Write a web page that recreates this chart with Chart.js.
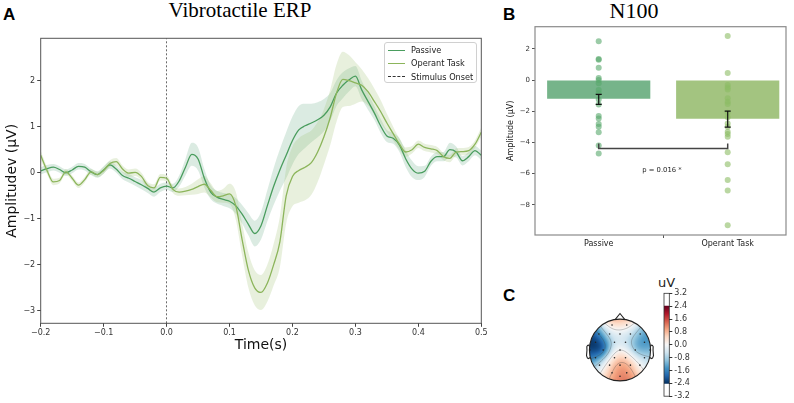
<!DOCTYPE html>
<html><head><meta charset="utf-8">
<script src="https://cdn.jsdelivr.net/npm/chart.js@4.4.0/dist/chart.umd.min.js"></script>
<style>
body{margin:0;width:794px;height:403px;background:#fff;position:relative;overflow:hidden;font-family:"DejaVu Sans",sans-serif;}
canvas{position:absolute;}
.lbl{position:absolute;font-family:"Liberation Sans",Arial,sans-serif;font-weight:bold;font-size:17px;line-height:1;}
.ttl{position:absolute;font-family:"Liberation Serif","Times New Roman",serif;line-height:1;white-space:nowrap;text-align:center;}
.leg{position:absolute;left:384px;top:42px;width:91px;height:39px;border:1px solid #d0d0d0;border-radius:3px;background:rgba(255,255,255,0.85);}
.li{position:absolute;left:3px;width:17px;height:0;}
.lt{position:absolute;left:26px;font-size:8.2px;line-height:1;color:#222;white-space:nowrap;}
</style></head><body>
<div class="lbl" style="left:3px;top:5.6px">A</div>
<div class="lbl" style="left:503px;top:5.6px">B</div>
<div class="lbl" style="left:503px;top:286.6px">C</div>
<div class="ttl" style="left:140px;width:200px;top:0px;font-size:21px">Vibrotactile ERP</div>
<div class="ttl" style="left:584px;width:100px;top:0px;font-size:22px">N100</div>
<div style="position:absolute;left:645px;width:43px;top:276px;text-align:center;font-size:13px;line-height:1;color:#222">uV</div>

<canvas id="cA" width="500" height="360" style="left:0;top:0"></canvas>
<canvas id="cB" width="294" height="260" style="left:500px;top:0"></canvas>
<canvas id="cT" width="80" height="88" style="left:580px;top:306px"></canvas>
<canvas id="cC" width="70" height="118" style="left:640px;top:285px"></canvas>

<div class="leg">
  <div class="li" style="top:6.5px;border-top:1.5px solid #4a9d5e"></div><div class="lt" style="top:3px">Passive</div>
  <div class="li" style="top:19.8px;border-top:1.5px solid #8cb55b"></div><div class="lt" style="top:16.3px">Operant Task</div>
  <div class="li" style="top:33.2px;border-top:1px dashed #333"></div><div class="lt" style="top:29.7px">Stimulus Onset</div>
</div>

<script>
// ---------------- DATA ----------------
const timeS = [-0.20,-0.19,-0.18,-0.17,-0.16,-0.15,-0.14,-0.13,-0.12,-0.11,-0.10,-0.09,-0.08,-0.07,-0.06,-0.05,-0.04,-0.03,-0.02,-0.01,
  0.00,0.01,0.02,0.03,0.04,0.05,0.06,0.07,0.08,0.09,0.10,0.11,0.12,0.13,0.14,0.15,0.16,0.17,0.18,0.19,0.20,
  0.21,0.22,0.23,0.24,0.25,0.26,0.27,0.28,0.29,0.30,0.31,0.32,0.33,0.34,0.35,0.36,0.37,0.38,0.39,0.40,
  0.41,0.42,0.43,0.44,0.45,0.46,0.47,0.48,0.49,0.50];
const passiveMean = [0.04,0.09,0.12,0.07,0.00,0.06,0.14,0.12,0.02,-0.04,0.06,0.17,0.08,-0.06,-0.12,-0.19,-0.26,-0.34,-0.42,-0.33,
  -0.29,-0.33,-0.18,0.12,0.40,0.30,-0.12,-0.42,-0.53,-0.58,-0.62,-0.72,-0.90,-1.12,-1.32,-1.15,-0.72,-0.30,0.06,0.38,0.70,
  0.93,1.02,1.08,1.15,1.25,1.43,1.73,1.90,2.02,2.10,1.80,1.55,1.30,1.02,0.80,0.75,0.60,0.30,0.08,-0.01,
  0.03,0.25,0.35,0.35,0.50,0.45,0.26,0.35,0.48,0.38];
const passiveSE = [0.08,0.08,0.07,0.07,0.07,0.07,0.07,0.07,0.07,0.07,0.08,0.08,0.08,0.08,0.09,0.09,0.10,0.10,0.10,0.09,
  0.08,0.09,0.12,0.18,0.25,0.25,0.20,0.15,0.14,0.14,0.15,0.17,0.20,0.24,0.28,0.30,0.34,0.40,0.45,0.50,0.52,
  0.52,0.48,0.42,0.38,0.35,0.30,0.28,0.28,0.25,0.22,0.20,0.18,0.15,0.15,0.13,0.12,0.15,0.18,0.18,0.15,
  0.12,0.10,0.10,0.10,0.15,0.12,0.10,0.10,0.10,0.10];
const operantMean = [0.38,0.05,-0.20,-0.17,0.02,-0.12,-0.27,-0.15,0.02,-0.04,0.05,0.20,0.24,0.08,-0.01,0.01,-0.08,-0.28,-0.33,-0.10,
  -0.12,-0.36,-0.42,-0.40,-0.36,-0.30,-0.25,-0.38,-0.52,-0.50,-0.46,-0.72,-1.45,-2.12,-2.50,-2.60,-2.40,-2.00,-1.50,-0.50,-0.08,
  0.05,0.12,0.22,0.45,0.78,1.20,1.73,2.03,2.00,1.95,1.90,1.76,1.55,1.33,1.08,0.85,0.62,0.45,0.50,0.62,
  0.55,0.52,0.48,0.35,0.31,0.45,0.46,0.48,0.62,0.88];
const operantSE = [0.10,0.08,0.07,0.06,0.06,0.06,0.06,0.06,0.06,0.06,0.07,0.07,0.08,0.08,0.08,0.08,0.08,0.08,0.08,0.07,
  0.07,0.08,0.08,0.09,0.12,0.16,0.18,0.15,0.12,0.15,0.22,0.30,0.35,0.38,0.38,0.38,0.40,0.45,0.55,0.60,0.65,
  0.70,0.72,0.70,0.65,0.60,0.60,0.62,0.60,0.55,0.45,0.35,0.30,0.28,0.25,0.20,0.15,0.12,0.10,0.08,0.08,
  0.08,0.08,0.08,0.08,0.08,0.08,0.08,0.08,0.08,0.10];
const onsetTime = 0;
const xTicksA = [-0.2,-0.1,0.0,0.1,0.2,0.3,0.4,0.5];
const yTicksA = [-3,-2,-1,0,1,2];

const barCats = ['Passive','Operant Task'];
const barMeans = [-1.2, -2.48];
const errLow = [-1.56, -3.01];
const errHigh = [-0.92, -1.99];
const passivePts = [2.48,1.35,1.30,0.79,0.13,0.0,-0.21,-0.64,-0.85,-1.24,-1.56,-2.31,-2.46,-2.82,-2.99,-3.35,-4.20,-4.70];
const operantPts = [2.82,0.45,-0.32,-0.47,-0.60,-1.17,-1.39,-1.54,-2.10,-2.39,-2.78,-2.99,-3.31,-3.46,-3.63,-4.63,-5.40,-6.41,-7.07,-9.31];
const yTicksB = [-8,-6,-4,-2,0,2];
const sigBracket = {from:0, to:1, y:-4.38, tip:-4.06, text:'p = 0.016 *', textY:-5.81};

const elecNames = ['Fp1','Fp2','F7','F3','Fz','F4','F8','FC5','FC1','FC2','FC6','T7','C3','Cz','C4','T8','CP5','CP1','CP2','CP6','P7','P3','Pz','P4','P8','O1','Oz','O2'];
const elecX = [-0.26,0.22,-0.69,-0.34,0.0,0.34,0.66,-0.80,-0.18,0.18,0.80,-0.98,-0.55,0.0,0.50,0.98,-0.80,-0.18,0.18,0.80,-0.67,-0.34,0.0,0.34,0.65,-0.26,0.0,0.22];
const elecY = [0.81,0.81,0.52,0.52,0.52,0.52,0.52,0.25,0.25,0.25,0.25,0.0,0.0,0.0,0.0,0.0,-0.25,-0.25,-0.25,-0.25,-0.49,-0.49,-0.49,-0.49,-0.49,-0.74,-0.85,-0.74];
const elecV = [1.3,1.2,-1.6,-0.7,-0.4,-0.9,-1.1,-2.8,-0.6,-0.6,-1.9,-2.2,-3.0,0.4,-1.7,-1.0,-1.6,0.5,0.6,-0.6,-0.3,0.4,1.6,0.9,-0.1,0.6,1.6,1.1];
const cbarTicks = [-3.2,-2.4,-1.6,-0.8,0.0,0.8,1.6,2.4,3.2];
const cbarRange = [-2.4, 2.4];
const contourLevels = [-1.6,-0.8,0.0,0.8];

// ---------------- HELPERS ----------------
Chart.defaults.font.family = "'DejaVu Sans', sans-serif";
Chart.defaults.color = '#333';
const fmtM = (v,d) => { const s = Math.abs(v).toFixed(d); return v < -1e-9 ? '\u2212' + s : s; };
const boxPlugin = (id, color, w) => ({id, afterDraw(chart){const {ctx, chartArea:a}=chart; ctx.save(); ctx.strokeStyle=color; ctx.lineWidth=w; ctx.strokeRect(a.left, a.top, a.right-a.left, a.bottom-a.top); ctx.restore();}});
const RdBu_r = ['#053061','#2166ac','#4393c3','#92c5de','#d1e5f0','#f7f7f7','#fddbc7','#f4a582','#d6604d','#b2182b','#67001f'];
function hex2rgb(h){return [parseInt(h.slice(1,3),16),parseInt(h.slice(3,5),16),parseInt(h.slice(5,7),16)];}
const cmRGB = RdBu_r.map(hex2rgb);
function cmap(v){
  let t = (v - cbarRange[0])/(cbarRange[1]-cbarRange[0]);
  t = Math.max(0, Math.min(1, t)) * (cmRGB.length-1);
  const i = Math.min(cmRGB.length-2, Math.floor(t)), f = t - i;
  const a = cmRGB[i], b = cmRGB[i+1];
  return `rgb(${Math.round(a[0]+(b[0]-a[0])*f)},${Math.round(a[1]+(b[1]-a[1])*f)},${Math.round(a[2]+(b[2]-a[2])*f)})`;
}

// ---------------- CHART A ----------------
const pts = (arr, f) => timeS.map((t,i)=>({x:t, y:f(i)}));
new Chart(document.getElementById('cA'), {
  type:'line',
  data:{datasets:[
    {data:pts(passiveMean,i=>passiveMean[i]-passiveSE[i]), borderWidth:0, pointRadius:0, fill:false, order:5, cubicInterpolationMode:'monotone'},
    {data:pts(passiveMean,i=>passiveMean[i]+passiveSE[i]), borderWidth:0, pointRadius:0, fill:'-1', backgroundColor:'rgba(74,157,110,0.2)', order:5, cubicInterpolationMode:'monotone'},
    {data:pts(operantMean,i=>operantMean[i]-operantSE[i]), borderWidth:0, pointRadius:0, fill:false, order:4, cubicInterpolationMode:'monotone'},
    {data:pts(operantMean,i=>operantMean[i]+operantSE[i]), borderWidth:0, pointRadius:0, fill:'-1', backgroundColor:'rgba(150,186,100,0.22)', order:4, cubicInterpolationMode:'monotone'},
    {data:[{x:onsetTime,y:-3.27},{x:onsetTime,y:2.92}], borderColor:'#444', borderWidth:0.8, borderDash:[2,2], pointRadius:0, order:2},
    {data:pts(passiveMean,i=>passiveMean[i]), borderColor:'#4a9d5e', borderWidth:1.3, pointRadius:0, order:1, cubicInterpolationMode:'monotone'},
    {data:pts(operantMean,i=>operantMean[i]), borderColor:'#8cb55b', borderWidth:1.3, pointRadius:0, order:0, cubicInterpolationMode:'monotone'}
  ]},
  options:{
    responsive:false, animation:false, events:[],
    layout:{padding:{left:0,right:18.7,top:38.3,bottom:0}},
    plugins:{legend:{display:false}, tooltip:{enabled:false}},
    scales:{
      x:{type:'linear', min:-0.2, max:0.5, border:{display:false},
        afterBuildTicks:s=>{s.ticks = xTicksA.map(v=>({value:v}));},
        afterFit:s=>{s.height=36.7;},
        grid:{drawOnChartArea:false, color:'#444', tickLength:3.5},
        ticks:{callback:v=>fmtM(v,1), font:{size:8}, color:'#333', padding:1, maxRotation:0, autoSkip:false},
        title:{display:true, text:'Time(s)', font:{size:14}, color:'#111', padding:{top:0,bottom:6}}},
      y:{type:'linear', min:-3.27, max:2.92, border:{display:false},
        afterBuildTicks:s=>{s.ticks = yTicksA.map(v=>({value:v}));},
        afterFit:s=>{s.width=40.7;},
        grid:{drawOnChartArea:false, color:'#444', tickLength:3.5},
        ticks:{callback:v=>fmtM(v,0), font:{size:8}, color:'#333', padding:2},
        title:{display:true, text:'Amplitudev (\u03bcV)', font:{size:14}, color:'#111', padding:{top:4,bottom:0}}}
    }
  },
  plugins:[boxPlugin('boxA','#555',1)]
});

// ---------------- CHART B ----------------
const sigPlugin = {id:'sig', afterDatasetsDraw(chart){
  const {ctx, scales:{x,y}} = chart;
  ctx.save(); ctx.font = "6.8px 'DejaVu Sans'"; ctx.fillStyle='#222'; ctx.textAlign='center'; ctx.textBaseline='middle';
  ctx.fillText(sigBracket.text, x.getPixelForValue((sigBracket.from+sigBracket.to)/2 - 0.01), y.getPixelForValue(sigBracket.textY));
  ctx.restore();
}};
new Chart(document.getElementById('cB'), {
  type:'bar',
  data:{datasets:[
    {type:'bar', data:barMeans.map((v,i)=>({x:i,y:v})), backgroundColor:['#76b48a','#a3c480'], barPercentage:0.8, categoryPercentage:1, order:3},
    {type:'scatter', data:passivePts.map(v=>({x:0,y:v})), pointRadius:3, pointBackgroundColor:'rgba(88,168,108,0.6)', pointBorderWidth:0, order:2},
    {type:'scatter', data:operantPts.map(v=>({x:1,y:v})), pointRadius:3, pointBackgroundColor:'rgba(140,188,100,0.6)', pointBorderWidth:0, order:2},
    {type:'line', data:[{x:0,y:errLow[0]},{x:0,y:errHigh[0]}], borderColor:'#111', borderWidth:1.2, pointStyle:'line', pointRadius:3, pointBorderColor:'#111', pointBorderWidth:1.2, order:1},
    {type:'line', data:[{x:1,y:errLow[1]},{x:1,y:errHigh[1]}], borderColor:'#111', borderWidth:1.2, pointStyle:'line', pointRadius:3, pointBorderColor:'#111', pointBorderWidth:1.2, order:1},
    {type:'line', data:[{x:sigBracket.from,y:sigBracket.tip},{x:sigBracket.from,y:sigBracket.y},{x:sigBracket.to,y:sigBracket.y},{x:sigBracket.to,y:sigBracket.tip}], borderColor:'#444', borderWidth:1.5, pointRadius:0, order:0}
  ]},
  options:{
    responsive:false, animation:false, events:[],
    layout:{padding:{left:0,right:8,top:26.7,bottom:0}},
    plugins:{legend:{display:false}, tooltip:{enabled:false}},
    scales:{
      x:{type:'linear', min:-0.494, max:1.452, offset:false, border:{display:false},
        afterBuildTicks:s=>{s.ticks = barCats.map((c,i)=>({value:i}));},
        afterFit:s=>{s.height=25;},
        grid:{drawOnChartArea:false, color:'#555', tickLength:3},
        ticks:{callback:v=>barCats[v], font:{size:8}, color:'#222', padding:1.5, maxRotation:0, autoSkip:false}},
      y:{type:'linear', min:-9.93, max:3.42, border:{display:false},
        afterBuildTicks:s=>{s.ticks = yTicksB.map(v=>({value:v}));},
        afterFit:s=>{s.width=35;},
        grid:{drawOnChartArea:false, color:'#555', tickLength:3},
        ticks:{callback:v=>fmtM(v,0), font:{size:7}, color:'#333', padding:2},
        title:{display:true, text:'Amplitude (\u03bcV)', font:{size:8}, color:'#222', padding:{top:6,bottom:0}}}
    }
  },
  plugins:[boxPlugin('boxB','#8a8a8a',1.2), sigPlugin]
});

// ---------------- TOPOMAP ----------------
const SIG2 = 2*0.26*0.26;
function field(ux, uy){
  let sw=0, sv=0;
  for(let k=0;k<elecV.length;k++){
    const dx=ux-elecX[k], dy=uy-elecY[k];
    const w = Math.exp(-(dx*dx+dy*dy)/SIG2) + 1e-9; sw+=w; sv+=w*elecV[k];
  }
  return sv/sw;
}
const earX = [0.994,1.020,1.036,1.0598,1.0838,1.08,1.094,1.064,1.020,0.978];
const earY = [0.111,0.155,0.1566,0.1492,0.111,-0.011,-0.1864,-0.2626,-0.2768,-0.2398];
const topoPlugin = {id:'topo', beforeDatasetsDraw(chart){
  const {ctx, scales:{x,y}} = chart;
  const cx=x.getPixelForValue(0), cy=y.getPixelForValue(0);
  const rx=x.getPixelForValue(1)-cx, ry=cy-y.getPixelForValue(1);
  ctx.save();
  ctx.beginPath(); ctx.ellipse(cx,cy,rx,ry,0,0,Math.PI*2); ctx.clip();
  for(let py=Math.floor(cy-ry)-1; py<=cy+ry+1; py++){
    for(let px=Math.floor(cx-rx)-1; px<=cx+rx+1; px++){
      const v = field(x.getValueForPixel(px+0.5), y.getValueForPixel(py+0.5));
      ctx.fillStyle = cmap(v); ctx.fillRect(px,py,1,1);
    }
  }
  // contours (marching squares)
  const st=2, x0=Math.floor(cx-rx)-2, y0=Math.floor(cy-ry)-2;
  const nx=Math.ceil((2*rx+4)/st)+1, ny=Math.ceil((2*ry+4)/st)+1;
  const G=[];
  for(let j=0;j<ny;j++){G.push([]);for(let i=0;i<nx;i++){G[j].push(field(x.getValueForPixel(x0+i*st), y.getValueForPixel(y0+j*st)));}}
  ctx.strokeStyle='rgba(70,70,70,0.5)'; ctx.lineWidth=0.6;
  ctx.beginPath();
  for(const L of contourLevels){
    for(let j=0;j<ny-1;j++){for(let i=0;i<nx-1;i++){
      const c=[[i,j,G[j][i]],[i+1,j,G[j][i+1]],[i+1,j+1,G[j+1][i+1]],[i,j+1,G[j+1][i]]];
      const p=[];
      for(let e=0;e<4;e++){
        const a=c[e], b=c[(e+1)%4];
        if((a[2]-L)*(b[2]-L)<0){const f=(L-a[2])/(b[2]-a[2]); p.push([x0+(a[0]+(b[0]-a[0])*f)*st, y0+(a[1]+(b[1]-a[1])*f)*st]);}
      }
      for(let q=0;q+1<p.length;q+=2){ctx.moveTo(p[q][0],p[q][1]); ctx.lineTo(p[q+1][0],p[q+1][1]);}
    }}
  }
  ctx.stroke();
  ctx.restore();
  // head, nose, ears
  ctx.save(); ctx.strokeStyle='#222'; ctx.lineWidth=1.1;
  ctx.beginPath(); ctx.ellipse(cx,cy,rx,ry,0,0,Math.PI*2); ctx.stroke();
  ctx.beginPath(); ctx.moveTo(x.getPixelForValue(-0.16),y.getPixelForValue(0.985)); ctx.lineTo(x.getPixelForValue(0),y.getPixelForValue(1.18)); ctx.lineTo(x.getPixelForValue(0.16),y.getPixelForValue(0.985)); ctx.stroke();
  for(const s of [-1,1]){
    ctx.beginPath();
    earX.forEach((ex,k)=>{const X=x.getPixelForValue(s*ex), Y=y.getPixelForValue(earY[k]); k?ctx.lineTo(X,Y):ctx.moveTo(X,Y);});
    ctx.stroke();
  }
  ctx.restore();
}};
new Chart(document.getElementById('cT'), {
  type:'scatter',
  data:{datasets:[{data:elecX.map((v,i)=>({x:v,y:elecY[i]})), pointRadius:0.8, pointBackgroundColor:'#222', pointBorderWidth:0}]},
  options:{responsive:false, animation:false, events:[], layout:{padding:0},
    plugins:{legend:{display:false}, tooltip:{enabled:false}},
    scales:{x:{display:false, min:-40/34, max:40/34}, y:{display:false, min:-44/34, max:44/34}}},
  plugins:[topoPlugin]
});

// ---------------- COLORBAR ----------------
new Chart(document.getElementById('cC'), {
  type:'bar',
  data:{labels:[''], datasets:[{data:[cbarRange], barPercentage:1, categoryPercentage:1, borderWidth:0,
    backgroundColor:(c)=>{const ch=c.chart; if(!ch.chartArea) return '#fff'; const ys=ch.scales.y;
      const g=ch.ctx.createLinearGradient(0, ys.getPixelForValue(cbarRange[0]), 0, ys.getPixelForValue(cbarRange[1]));
      RdBu_r.forEach((col,i)=>g.addColorStop(i/(RdBu_r.length-1), col)); return g;}}]},
  options:{responsive:false, animation:false, events:[],
    layout:{padding:{left:24,right:0,top:8.3,bottom:5.3}},
    plugins:{legend:{display:false}, tooltip:{enabled:false}},
    scales:{
      x:{display:false},
      y:{position:'right', min:-3.2, max:3.2, border:{display:false},
        afterBuildTicks:s=>{s.ticks = cbarTicks.map(v=>({value:v}));},
        afterFit:s=>{s.width=40.7;},
        grid:{drawOnChartArea:false, color:'#333', tickLength:3},
        ticks:{callback:v=>v.toFixed(1), font:{size:8}, color:'#333', padding:2}}
    }},
  plugins:[boxPlugin('boxC','#333',0.8)]
});
</script>
</body></html>
